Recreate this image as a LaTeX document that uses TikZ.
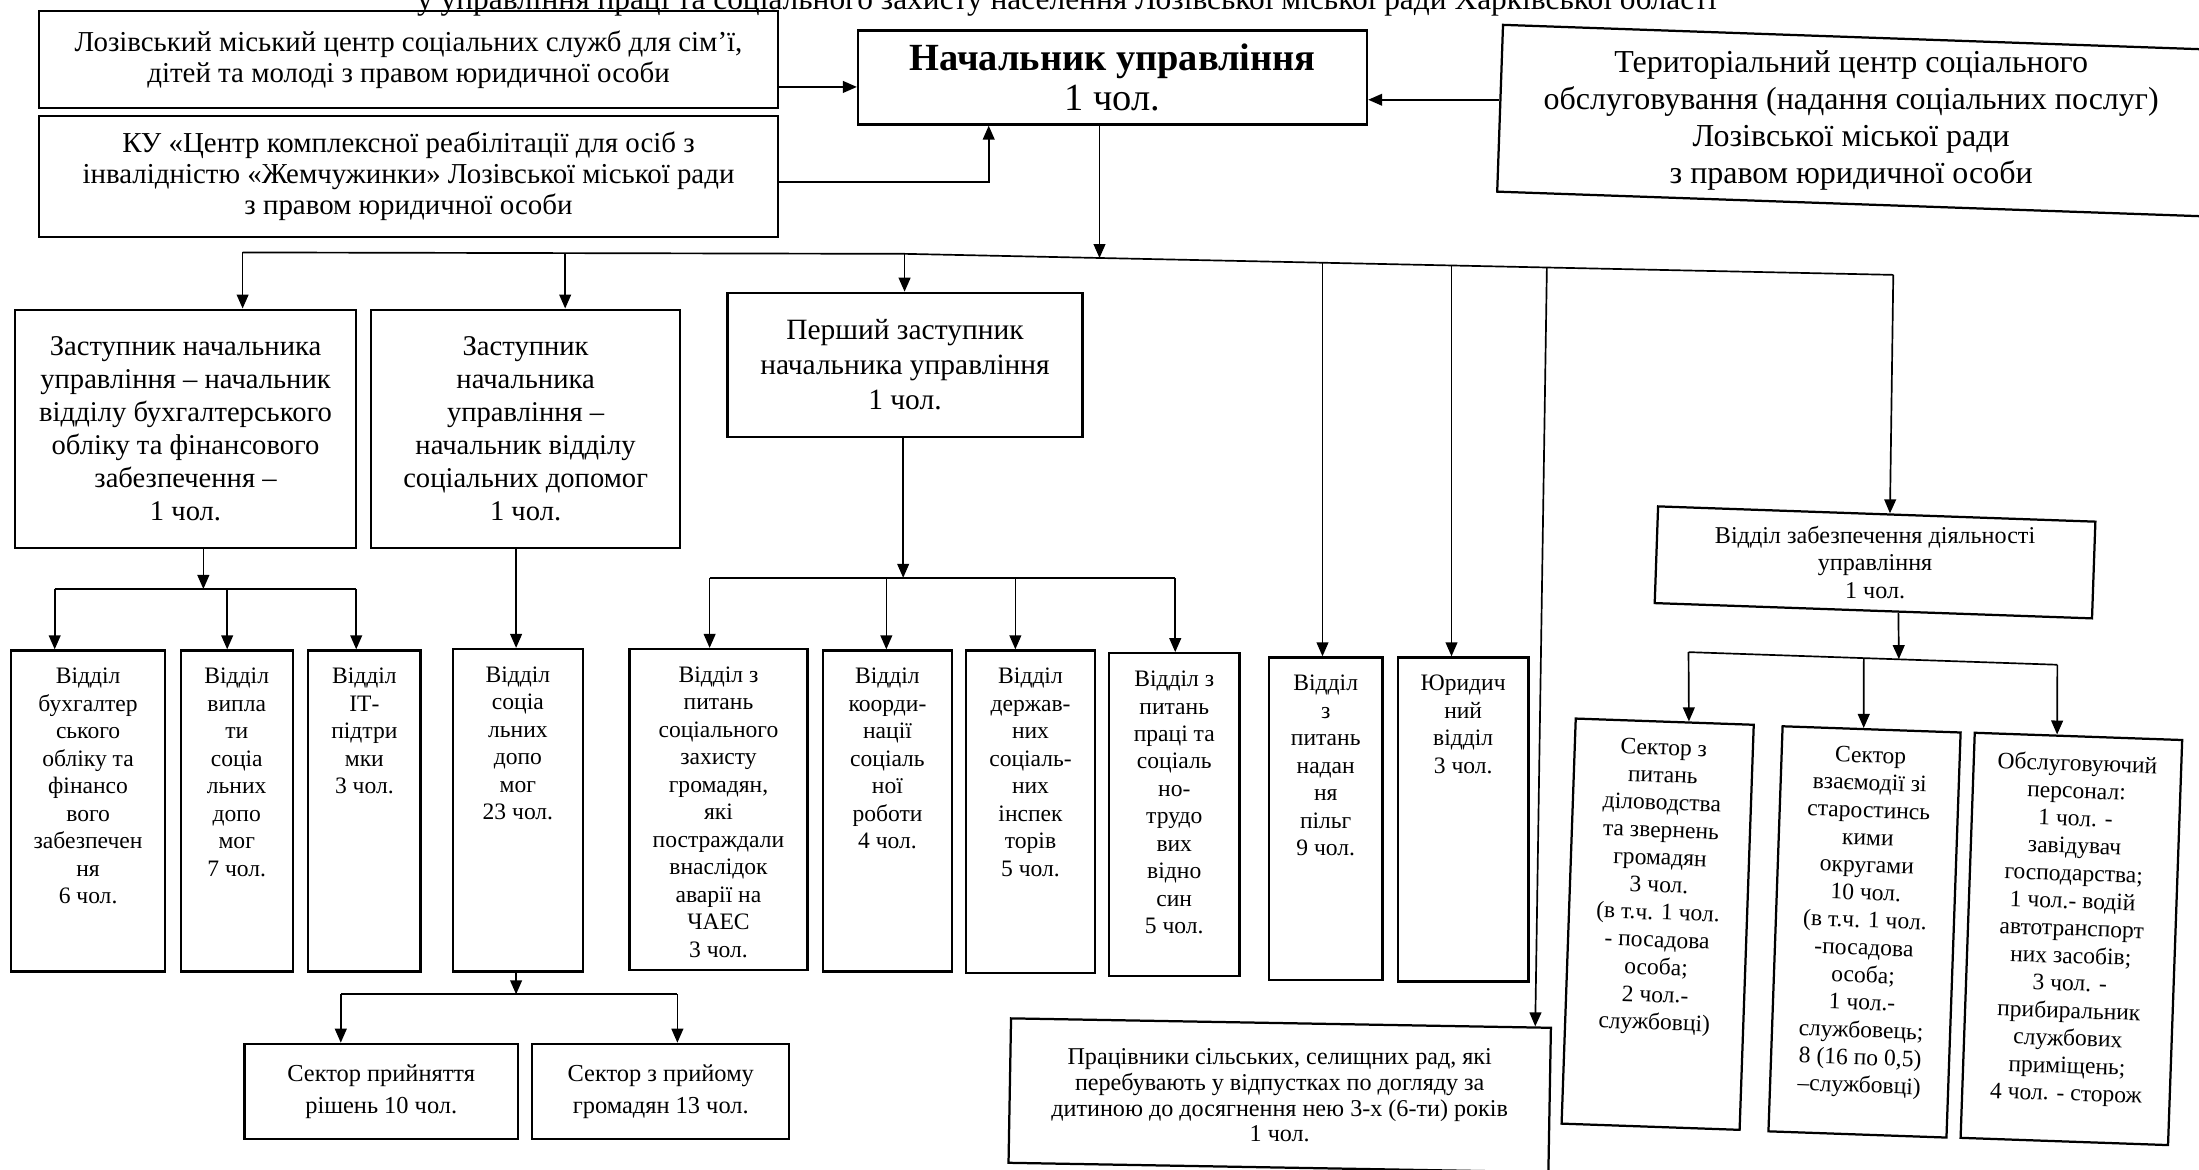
\documentclass[tikz,border=0pt]{standalone}
\usepackage{fontspec}
\setmainfont{Liberation Serif}
\usetikzlibrary{arrows.meta,calc}
\newcommand{\rbox}[7][]{\node[box,#1,anchor=north west,minimum width={(#5-#3)*0.5pt},minimum height={(#6-#4)*0.5pt}] (#2) at (#3,#4) {#7};}
\newcommand{\cbox}[7][]{\node[box,#1,minimum width={#5*0.5pt},minimum height={#6*0.5pt}] (#2) at (#3,#4) {#7};}
\begin{document}
\begin{tikzpicture}[x=0.5pt,y=-0.5pt,
  box/.style={draw,line width=0.8pt,inner sep=0pt,align=center},
  txt/.style={align=center,inner sep=0pt},
  conn/.style={line width=0.6pt},
  arr/.style={conn,-{Triangle[length=5pt,width=4.2pt]}},
  fTitle/.style={font=\fontsize{11.2}{13}\selectfont},
  fA/.style={font=\fontsize{10.3}{11}\selectfont},
  fHead/.style={font=\fontsize{13.7}{14.5}\selectfont},
  fT/.style={font=\fontsize{11.4}{13.2}\selectfont},
  fZ/.style={font=\fontsize{10.2}{11.75}\selectfont},
  fP/.style={font=\fontsize{10.5}{12.5}\selectfont},
  fS/.style={font=\fontsize{8.7}{11.5}\selectfont},
  fW/.style={font=\fontsize{8.6}{9.2}\selectfont},
  fVZ/.style={font=\fontsize{8.6}{9.8}\selectfont},
  small/.style={font=\fontsize{8.4}{9.8}\selectfont,align=center,inner sep=0pt}]
\fill[white] (0,0) rectangle (1568,834);
\useasboundingbox (0,0) rectangle (1568,834);

% title (cut at top, as in the scan)
\node[fTitle,anchor=base west,inner sep=0pt] (title) at (297,6.5) {у управління праці та соціального захисту населення Лозівської міської ради Харківської області};

% top level
\rbox[fA]{A}{27}{7}{554}{76}{Лозівський міський центр соціальних служб для сім’ї,\\ дітей та молоді з правом юридичної особи}
\rbox[fA]{B}{27}{82}{554}{168}{КУ «Центр комплексної реабілітації для осіб з\\ інвалідністю «Жемчужинки» Лозівської міської ради\\ з правом юридичної особи}
\rbox[fHead]{head}{611}{21}{974}{88}{\textbf{Начальник управління}\\ 1 чол.}
\cbox[rotate=-2]{T}{1322}{86}{505}{119}{}
\node[txt,fT] (tT) at ([xshift=-1pt]T.center) {Територіальний центр соціального\\ обслуговування (надання соціальних послуг)\\ Лозівської міської ради\\ з правом юридичної особи};

% second level
\rbox[fZ]{Z1}{10}{220}{253}{390}{Заступник начальника\\ управління – начальник\\ відділу бухгалтерського\\ обліку та фінансового\\ забезпечення –\\ 1 чол.}
\rbox[fZ]{Z2}{264}{220}{484}{390}{Заступник\\ начальника\\ управління –\\ начальник відділу\\ соціальних допомог\\ 1 чол.}
\rbox[fP]{P}{518}{208}{771}{311}{Перший заступник\\ начальника управління\\ 1 чол.}
\cbox[rotate=-2]{VZ}{1337}{401}{312}{69}{}
\node[txt,fVZ] (tVZ) at (VZ.center) {Відділ забезпечення діяльності\\ управління\\ 1 чол.};

% third level boxes
\rbox{L1}{7}{463}{117}{692}{}
\rbox{L2}{128}{463}{208}{692}{}
\rbox{L3}{219}{463}{299}{692}{}
\rbox{L4}{322}{462}{415}{692}{}
\rbox{M1}{448}{462}{575}{691}{}
\rbox{M2}{586}{463}{678}{692}{}
\rbox{M3}{688}{463}{780}{693}{}
\rbox{M4}{790}{465}{883}{695}{}
\rbox{R1}{904}{468}{985}{698}{}
\rbox{R2}{996}{468}{1089}{699}{}
\cbox[rotate=-2]{K1}{1182}{659}{127}{289}{}
\cbox[rotate=-2]{K2}{1329.5}{664.5}{127}{289}{}
\cbox[rotate=-2]{K3}{1477}{669.5}{148}{289}{}

\node[small,anchor=north] (tL1) at ([yshift=-6.5pt]L1.north) {Відділ\\ бухгалтер\\ ського\\ обліку та\\ фінансо\\ вого\\ забезпечен\\ ня\\ 6 чол.};
\node[small,anchor=north] (tL2) at ([yshift=-6.5pt]L2.north) {Відділ\\ випла\\ ти\\ соціа\\ льних\\ допо\\ мог\\ 7 чол.};
\node[small,anchor=north] (tL3) at ([yshift=-6.5pt]L3.north) {Відділ\\ ІТ-\\ підтри\\ мки\\ 3 чол.};
\node[small,anchor=north] (tL4) at ([yshift=-6.5pt]L4.north) {Відділ\\ соціа\\ льних\\ допо\\ мог\\ 23 чол.};
\node[small,anchor=north] (tM1) at ([yshift=-6.5pt]M1.north) {Відділ з\\ питань\\ соціального\\ захисту\\ громадян,\\ які\\ постраждали\\ внаслідок\\ аварії на\\ ЧАЕС\\ 3 чол.};
\node[small,anchor=north] (tM2) at ([yshift=-6.5pt]M2.north) {Відділ\\ коорди-\\ нації\\ соціаль\\ ної\\ роботи\\ 4 чол.};
\node[small,anchor=north] (tM3) at ([yshift=-6.5pt]M3.north) {Відділ\\ держав-\\ них\\ соціаль-\\ них\\ інспек\\ торів\\ 5 чол.};
\node[small,anchor=north] (tM4) at ([yshift=-6.5pt]M4.north) {Відділ з\\ питань\\ праці та\\ соціаль\\ но-\\ трудо\\ вих\\ відно\\ син\\ 5 чол.};
\node[small,anchor=north] (tR1) at ([yshift=-6.5pt]R1.north) {Відділ\\ з\\ питань\\ надан\\ ня\\ пільг\\ 9 чол.};
\node[small,anchor=north] (tR2) at ([yshift=-6.5pt]R2.north) {Юридич\\ ний\\ відділ\\ 3 чол.};
\node[small,anchor=north,rotate=-2] (tK1) at ($(K1.north)!0.045!(K1.south)$) {Сектор з\\ питань\\ діловодства\\ та звернень\\ громадян\\ 3 чол.\\ (в т.ч. 1 чол.\\ - посадова\\ особа;\\ 2 чол.-\\ службовці)};
\node[small,anchor=north,rotate=-2] (tK2) at ($(K2.north)!0.045!(K2.south)$) {Сектор\\ взаємодії зі\\ старостинсь\\ кими\\ округами\\ 10 чол.\\ (в т.ч. 1 чол.\\ -посадова\\ особа;\\ 1 чол.-\\ службовець;\\ 8 (16 по 0,5)\\ –службовці)};
\node[small,anchor=north,rotate=-2] (tK3) at ($(K3.north)!0.045!(K3.south)$) {Обслуговуючий\\ персонал:\\ 1 чол. -\\ завідувач\\ господарства;\\ 1 чол.- водій\\ автотранспорт\\ них засобів;\\ 3 чол. -\\ прибиральник\\ службових\\ приміщень;\\ 4 чол. - сторож};

% bottom boxes
\rbox[fS]{S1}{173.5}{743.5}{368.6}{811.5}{Сектор прийняття\\ рішень 10 чол.}
\rbox[fS]{S2}{378.7}{743.5}{562}{811.5}{Сектор з прийому\\ громадян 13 чол.}
\cbox[rotate=-1]{W}{912.5}{781}{385}{103}{}
\node[txt,fW] (tW) at (W.center) {Працівники сільських, селищних рад, які\\ перебувають у відпустках по догляду за\\ дитиною до досягнення нею 3-х (6-ти) років\\ 1 чол.};

% ---------- connectors ----------
\coordinate (yA) at (0,62);
\draw[arr] (A.east |- yA) -- (head.west |- yA);
\coordinate (kB) at (705,130);
\draw[arr] (B.east |- kB) -- (kB) -- (kB |- head.south);
\coordinate (tw) at ($(T.north west)!0.45!(T.south west)$);
\draw[arr] (tw) -- (head.east |- tw);

\coordinate (hb) at (784,184);
\draw[arr] (head.south -| hb) -- (hb);
\coordinate (b0) at (173,180);
\coordinate (b1) at (645,181);
\coordinate (b2) at (1350,196);
\draw[conn] (b0) -- (b1) -- (b2);
\coordinate (bz2) at (403,180.5);
\coordinate (br1) at (943,187.3);
\coordinate (br2) at (1035,189.3);
\coordinate (bw) at (1103,190.7);
\draw[arr] (b0) -- (b0 |- Z1.north);
\draw[arr] (bz2) -- (bz2 |- Z2.north);
\draw[arr] (b1) -- (b1 |- P.north);
\draw[arr] (br1) -- (br1 |- R1.north);
\draw[arr] (br2) -- (br2 |- R2.north);
\coordinate (wt) at ($(W.north west)!0.969!(W.north east)$);
\draw[arr] (bw) -- (wt);
\coordinate (vzt) at ($(VZ.north west)!0.53!(VZ.north east)$);
\draw[arr] (b2) -- (vzt);

% Z1 group
\coordinate (j1) at (145,420);
\coordinate (j1a) at (39,420);
\coordinate (j1b) at (162,420);
\coordinate (j1c) at (254,420);
\draw[arr] (Z1.south -| j1) -- (j1);
\draw[conn] (j1a) -- (j1c);
\draw[arr] (j1a) -- (j1a |- L1.north);
\draw[arr] (j1b) -- (j1b |- L2.north);
\draw[arr] (j1c) -- (j1c |- L3.north);

% Z2 group
\coordinate (j2) at (368,400);
\draw[arr] (Z2.south -| j2) -- (L4.north -| j2);
\coordinate (j3) at (368,709);
\coordinate (j3a) at (243,709);
\coordinate (j3b) at (483,709);
\draw[arr] (L4.south -| j3) -- (j3);
\draw[conn] (j3a) -- (j3b);
\draw[arr] (j3a) -- (j3a |- S1.north);
\draw[arr] (j3b) -- (j3b |- S2.north);

% P group
\coordinate (j4) at (644,412);
\coordinate (j4a) at (506,412);
\coordinate (j4b) at (632,412);
\coordinate (j4c) at (724,412);
\coordinate (j4d) at (838,412);
\draw[arr] (P.south -| j4) -- (j4);
\draw[conn] (j4a) -- (j4d);
\draw[arr] (j4a) -- (j4a |- M1.north);
\draw[arr] (j4b) -- (j4b |- M2.north);
\draw[arr] (j4c) -- (j4c |- M3.north);
\draw[arr] (j4d) -- (j4d |- M4.north);

% VZ group
\coordinate (vzb) at ($(VZ.south west)!0.557!(VZ.south east)$);
\coordinate (j5) at (1354,470);
\coordinate (vb1) at (1204,465);
\coordinate (vd2) at (1329,469.3);
\coordinate (vb2) at (1467,474);
\draw[arr] (vzb) -- (j5);
\draw[conn] (vb1) -- (vb2);
\coordinate (k1t) at ($(K1.north west)!0.634!(K1.north east)$);
\coordinate (k2t) at ($(K2.north west)!0.456!(K2.north east)$);
\coordinate (k3t) at ($(K3.north west)!0.398!(K3.north east)$);
\draw[arr] (vb1) -- (k1t);
\draw[arr] (vd2) -- (k2t);
\draw[arr] (vb2) -- (k3t);
\end{tikzpicture}
\end{document}
